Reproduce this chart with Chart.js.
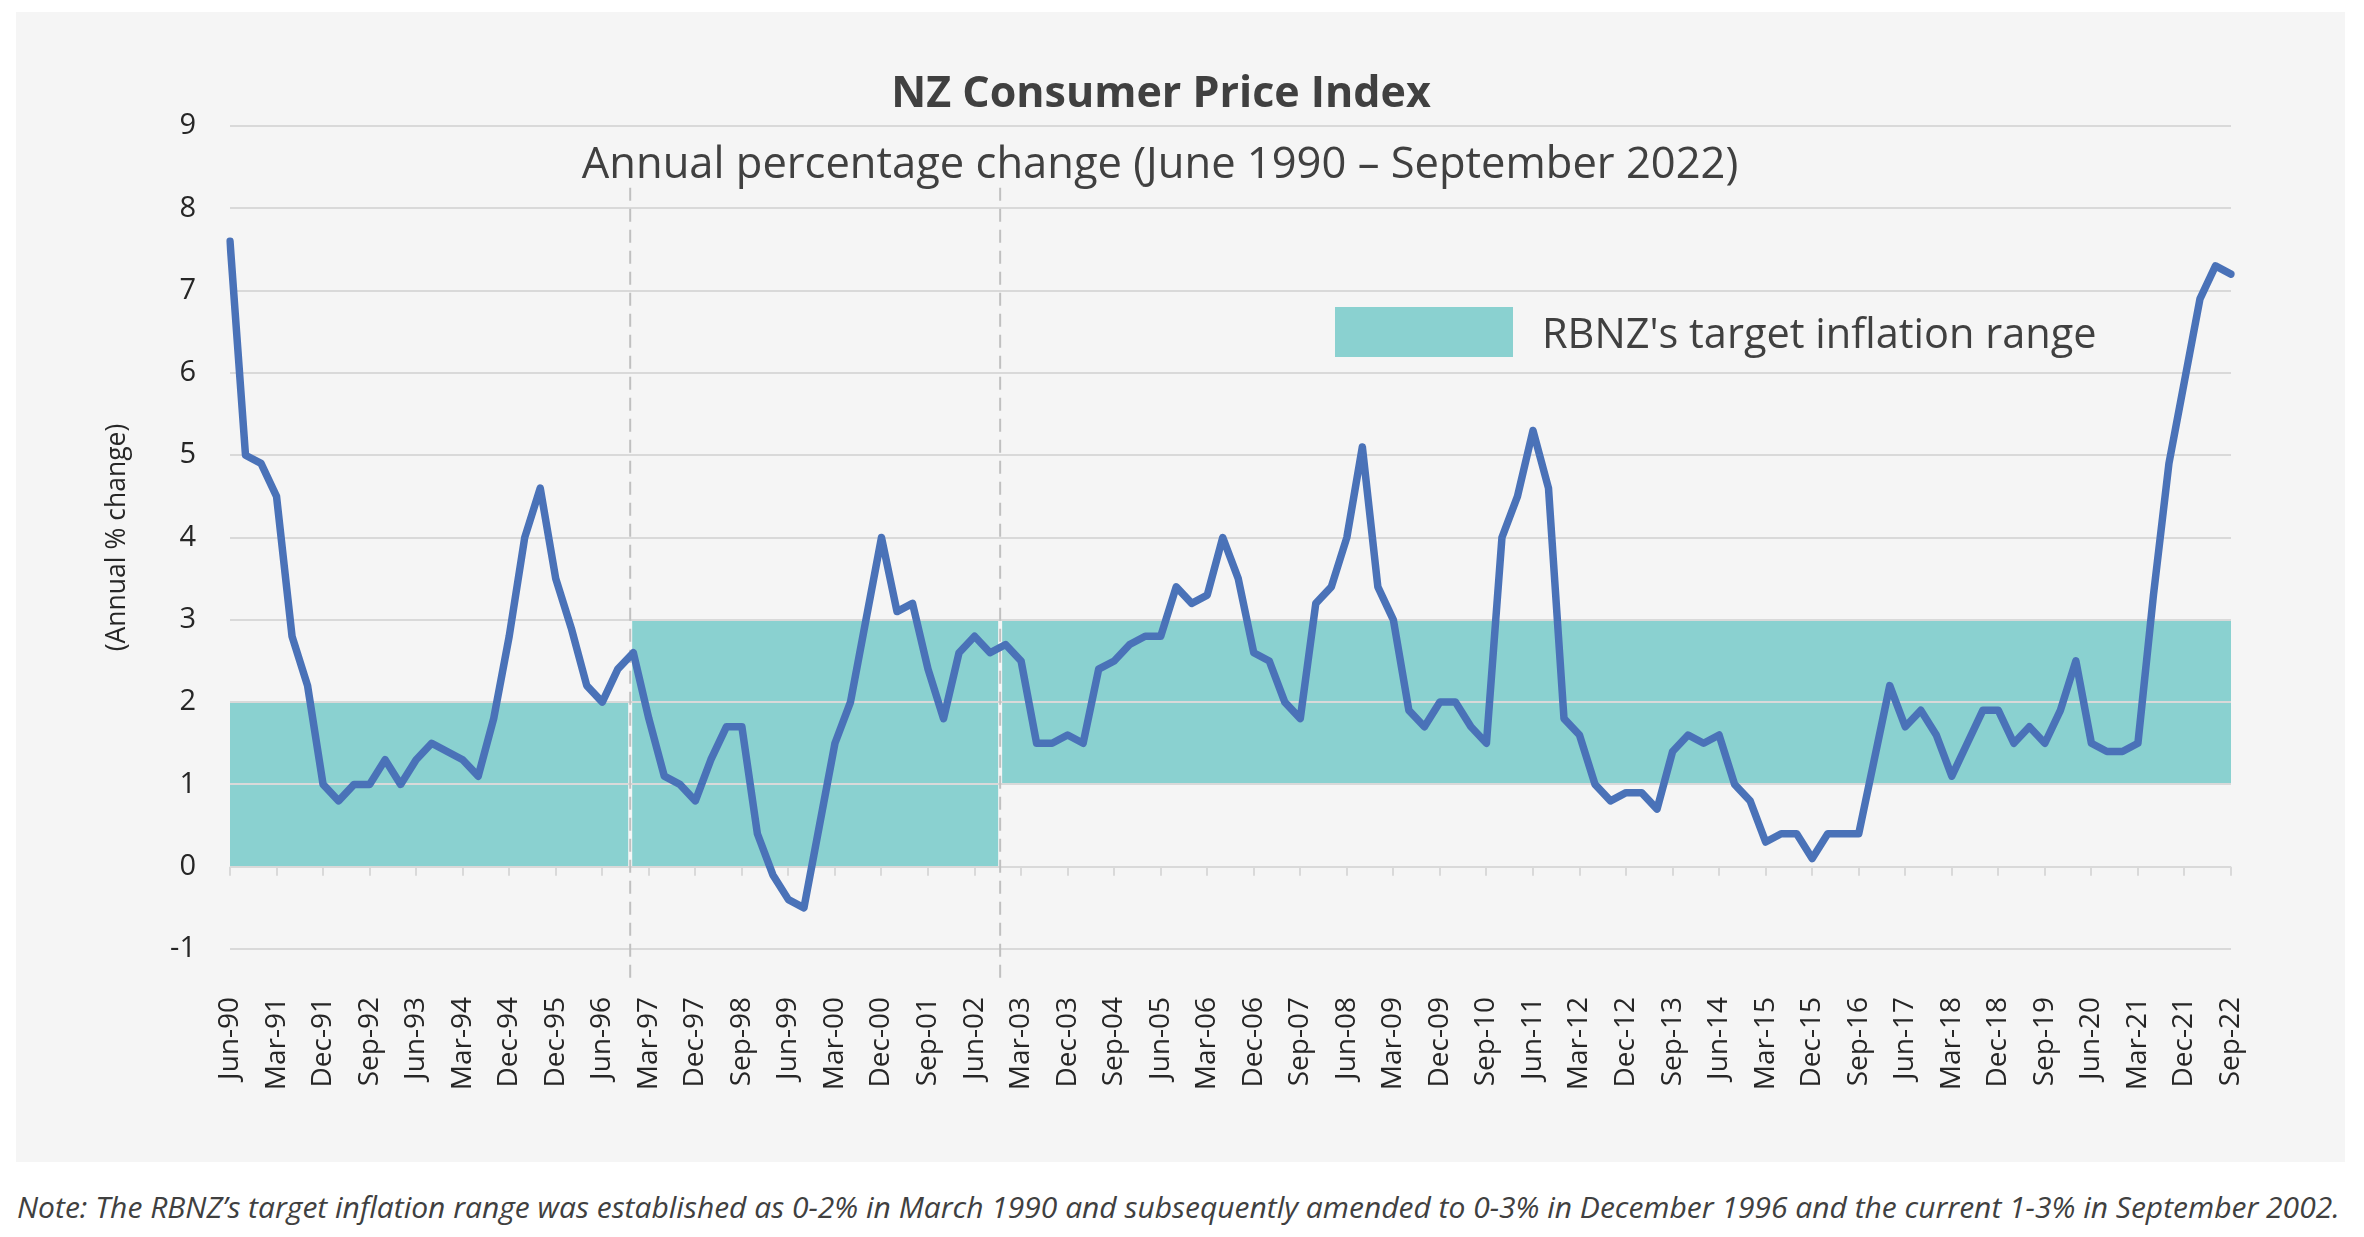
<!DOCTYPE html>
<html>
<head>
<meta charset="utf-8">
<title>NZ Consumer Price Index</title>
<script src="https://cdn.jsdelivr.net/npm/chart.js@4.4.1/dist/chart.umd.min.js"></script>
<style>
  html, body { margin: 0; padding: 0; background: #ffffff; }
  #panel { position: absolute; left: 16px; top: 12px; width: 2329px; height: 1150px; background: #f5f5f5; }
  #note { position: absolute; left: 17px; top: 1186px; font: italic 30px "Open Sans", sans-serif; color: #404040; white-space: nowrap; }
</style>
</head>
<body>
<div id="panel"><canvas id="cpiChart"></canvas></div>
<div id="note">Note: The RBNZ’s target inflation range was established as 0-2% in March 1990 and subsequently amended to 0-3% in December 1996 and the current 1-3% in September 2002.</div>
<script>
// quarterly annual % change, Jun-90 .. Sep-22
const cpiValues = [
  7.6, 5.0, 4.9, 4.5, 2.8, 2.2, 1.0, 0.8, 1.0, 1.0,
  1.3, 1.0, 1.3, 1.5, 1.4, 1.3, 1.1, 1.8, 2.8, 4.0,
  4.6, 3.5, 2.9, 2.2, 2.0, 2.4, 2.6, 1.8, 1.1, 1.0,
  0.8, 1.3, 1.7, 1.7, 0.4, -0.1, -0.4, -0.5, 0.5, 1.5,
  2.0, 3.0, 4.0, 3.1, 3.2, 2.4, 1.8, 2.6, 2.8, 2.6,
  2.7, 2.5, 1.5, 1.5, 1.6, 1.5, 2.4, 2.5, 2.7, 2.8,
  2.8, 3.4, 3.2, 3.3, 4.0, 3.5, 2.6, 2.5, 2.0, 1.8,
  3.2, 3.4, 4.0, 5.1, 3.4, 3.0, 1.9, 1.7, 2.0, 2.0,
  1.7, 1.5, 4.0, 4.5, 5.3, 4.6, 1.8, 1.6, 1.0, 0.8,
  0.9, 0.9, 0.7, 1.4, 1.6, 1.5, 1.6, 1.0, 0.8, 0.3,
  0.4, 0.4, 0.1, 0.4, 0.4, 0.4, 1.3, 2.2, 1.7, 1.9,
  1.6, 1.1, 1.5, 1.9, 1.9, 1.5, 1.7, 1.5, 1.9, 2.5,
  1.5, 1.4, 1.4, 1.5, 3.3, 4.9, 5.9, 6.9, 7.3, 7.2
];

// axis labels as printed (every third quarter)
const tickLabels = ['Jun-90','Mar-91','Dec-91','Sep-92','Jun-93','Mar-94','Dec-94','Dec-95','Jun-96',
  'Mar-97','Dec-97','Sep-98','Jun-99','Mar-00','Dec-00','Sep-01','Jun-02','Mar-03','Dec-03','Sep-04',
  'Jun-05','Mar-06','Dec-06','Sep-07','Jun-08','Mar-09','Dec-09','Sep-10','Jun-11','Mar-12','Dec-12',
  'Sep-13','Jun-14','Mar-15','Dec-15','Sep-16','Jun-17','Mar-18','Dec-18','Sep-19','Jun-20','Mar-21',
  'Dec-21','Sep-22'];

// target range bands (x in quarter index, y in %)
const bandFrom = [0, 25.8, 49.65];
const bandTo   = [25.8, 49.65, 129];
const bandLow  = [0, 0, 1];
const bandHigh = [2, 3, 3];
const policyChanges = [25.8, 49.65];

const months = ['Mar', 'Jun', 'Sep', 'Dec'];
const quarters = cpiValues.map((v, i) => {
    let q = 1 + i;
    let year = 1990 + Math.floor(q / 4);
    return months[q % 4] + '-' + String(year).slice(2);
});

const TEXT = '#404040';
const FONT = '"Open Sans", sans-serif';
const BAND = '#8ad1d0';

const extras = {
    id: 'extras',
    beforeDraw(chart) {
        const {ctx} = chart;
        const x = chart.scales.x, y = chart.scales.y;
        ctx.save();
        ctx.fillStyle = BAND;
        for (let i = 0; i < bandFrom.length; i++) {
            let x0 = x.getPixelForValue(bandFrom[i]);
            let x1 = x.getPixelForValue(bandTo[i]);
            if (i > 0) x0 += 2;
            if (i < bandFrom.length - 1) x1 -= 2;
            let y0 = y.getPixelForValue(bandHigh[i]);
            let y1 = y.getPixelForValue(bandLow[i]);
            ctx.fillRect(x0, y0, x1 - x0, y1 - y0);
        }
        ctx.restore();
    },
    beforeDatasetsDraw(chart) {
        const {ctx} = chart;
        const x = chart.scales.x, y = chart.scales.y;
        ctx.save();
        // tick marks hanging from the zero line
        ctx.strokeStyle = '#d9d9d9';
        ctx.lineWidth = 2;
        let y0 = y.getPixelForValue(0);
        for (let i = 0; i < quarters.length; i += 3) {
            let px = Math.round(x.getPixelForValue(i));
            ctx.beginPath();
            ctx.moveTo(px, y0);
            ctx.lineTo(px, y0 + 9);
            ctx.stroke();
        }
        // dashed lines where the target changed
        ctx.strokeStyle = '#c0c0c0';
        ctx.setLineDash([13, 8]);
        policyChanges.forEach(p => {
            let px = x.getPixelForValue(p);
            ctx.beginPath();
            ctx.moveTo(px, y.getPixelForValue(8.25));
            ctx.lineTo(px, y.getPixelForValue(-1.35));
            ctx.stroke();
        });
        ctx.restore();
    },
    afterDraw(chart) {
        const {ctx} = chart;
        ctx.save();
        ctx.fillStyle = TEXT;
        ctx.textAlign = 'center';
        ctx.textBaseline = 'alphabetic';
        ctx.font = 'bold 43px ' + FONT;
        ctx.fillText('NZ Consumer Price Index', 1145, 95);
        ctx.font = '43.5px ' + FONT;
        ctx.fillText('Annual percentage change (June 1990 \u2013 September 2022)', 1144, 166);
        // legend
        ctx.fillStyle = BAND;
        ctx.fillRect(1319, 295, 178, 50);
        ctx.fillStyle = TEXT;
        ctx.textAlign = 'left';
        ctx.font = '41.5px ' + FONT;
        ctx.fillText("RBNZ's target inflation range", 1526, 336);
        ctx.restore();
    }
};

new Chart(document.getElementById('cpiChart'), {
    type: 'line',
    data: {
        labels: quarters,
        datasets: [{
            label: 'CPI annual % change',
            data: cpiValues,
            borderColor: '#4a72b8',
            borderWidth: 7.5,
            borderJoinStyle: 'round',
            borderCapStyle: 'round',
            pointRadius: 0,
            tension: 0,
            fill: false
        }]
    },
    options: {
        responsive: true,
        maintainAspectRatio: false,
        animation: false,
        devicePixelRatio: 1,
        layout: { padding: { top: 114, right: 114, left: 0, bottom: 0 } },
        plugins: {
            legend: { display: false },
            title: { display: false },
            tooltip: { enabled: false }
        },
        scales: {
            x: {
                grid: { display: false, drawTicks: false },
                border: { display: false },
                ticks: {
                    autoSkip: false,
                    minRotation: 90,
                    maxRotation: 90,
                    padding: 48,
                    color: '#262626',
                    font: { family: FONT, size: 28 },
                    callback: (value, index) => index % 3 === 0 ? tickLabels[index / 3] : ''
                },
                afterFit: scale => { scale.height = 213; }
            },
            y: {
                min: -1,
                max: 9,
                grid: { color: '#d9d9d9', lineWidth: 2, drawTicks: false },
                border: { display: false },
                ticks: {
                    stepSize: 1,
                    padding: 34,
                    color: '#262626',
                    font: { family: FONT, size: 29 }
                },
                title: {
                    display: true,
                    text: '(Annual % change)',
                    color: '#262626',
                    font: { family: FONT, size: 26.5 },
                    padding: { top: 86, bottom: 0 }
                },
                afterFit: scale => { scale.width = 214; }
            }
        }
    },
    plugins: [extras]
});
</script>
</body>
</html>
